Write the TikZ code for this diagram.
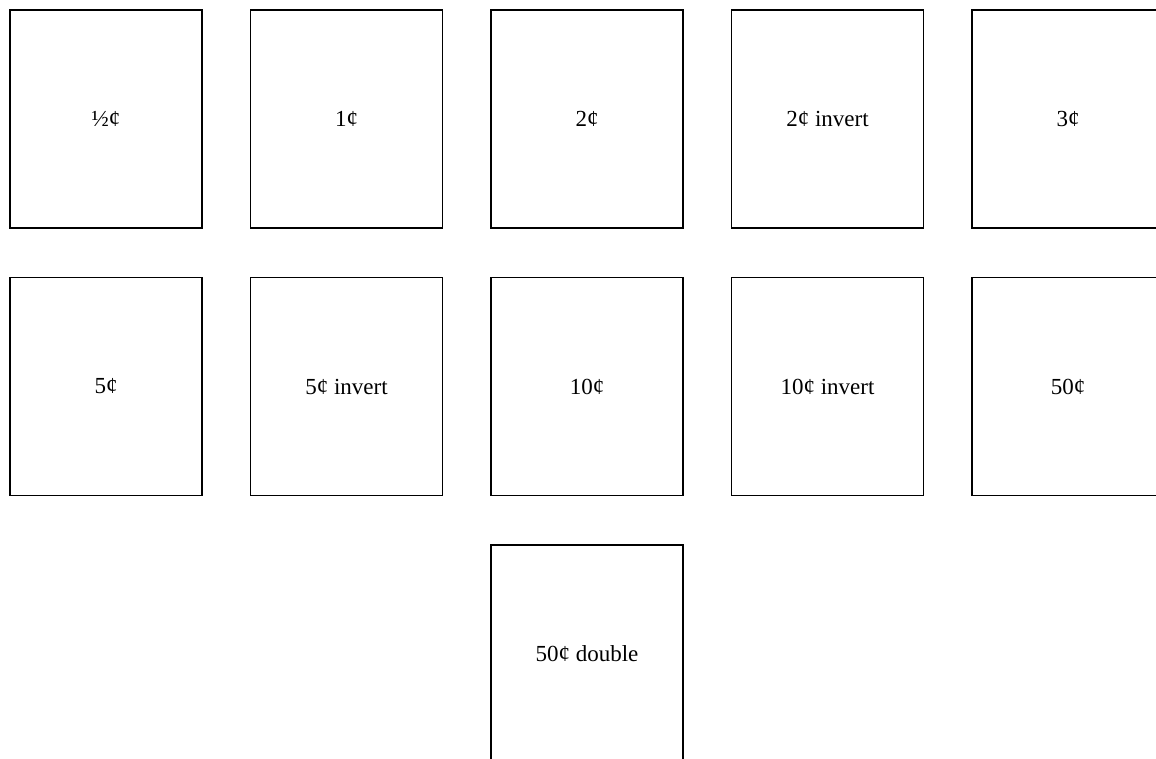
\documentclass[tikz,border=0pt]{standalone}
\usepackage{fontspec}
\setmainfont{Liberation Serif}
\usetikzlibrary{positioning}
\tikzset{
  stamp/.style = {rectangle, draw, line width=1.6pt, outer sep=0pt,
                  minimum width=192pt, minimum height=218pt, align=center,
                  font=\fontsize{23}{27}\selectfont},
}

\begin{document}
\begin{tikzpicture}[x=1pt, y=1pt, node distance=49.5pt and 48.5pt]
  \useasboundingbox[clip] (0,0) rectangle (1156,-759);

  \node[stamp, anchor=north west] (half) at (10,-10) {½¢};
  \node[stamp, right=of half] (one) {1¢};
  \node[stamp, right=of one] (two) {2¢};
  \node[stamp, right=of two] (twoinv) {2¢ invert};
  \node[stamp, right=of twoinv] (three) {3¢};

  \node[stamp, below=of half] (five) {5¢};
  \node[stamp, right=of five] (fiveinv) {5¢ invert};
  \node[stamp, right=of fiveinv] (ten) {10¢};
  \node[stamp, right=of ten] (teninv) {10¢ invert};
  \node[stamp, right=of teninv] (fifty) {50¢};

  \node[stamp, below=of ten] (fiftydbl) {50¢ double};
\end{tikzpicture}
\end{document}
